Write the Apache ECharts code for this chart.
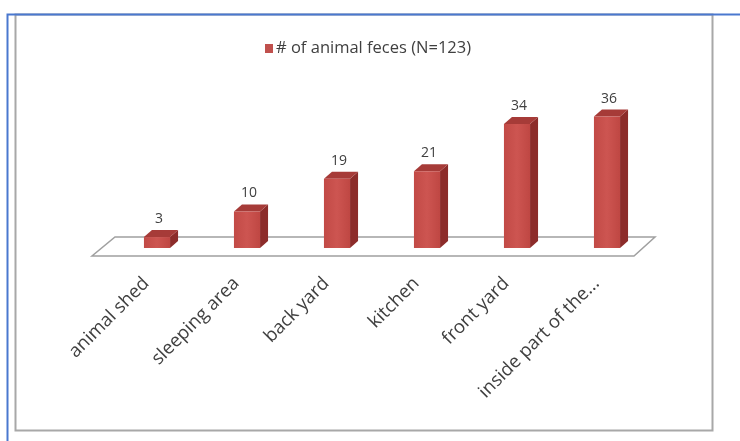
<!DOCTYPE html>
<html>
<head>
<meta charset="utf-8">
<script src="https://cdn.jsdelivr.net/npm/echarts@6/dist/echarts.min.js"></script>
<style>
  html, body { margin: 0; padding: 0; background: #fff; }
  #main { width: 740px; height: 441px; }
</style>
</head>
<body>
<div id="main"></div>
<script>
// data
var categories = ['animal shed', 'sleeping area', 'back yard', 'kitchen', 'front yard', 'inside part of the...'];
var fecesCounts = [3, 10, 19, 21, 34, 36];
var seriesName = '# of animal feces (N=123)';

var DX = 8, DY = 7; // fake 3d depth

var chart = echarts.init(document.getElementById('main'));

// 3d bar: front face + right side + top
function renderBar(params, api) {
    var base = api.coord([api.value(0), 0]);
    var top = api.coord([api.value(0), api.value(1)]);
    var w = api.size([1, 0])[0] * 0.29;
    var l = base[0] - w / 2, r = base[0] + w / 2;
    var y0 = base[1], y1 = top[1];
    return {
        type: 'group',
        children: [
            { type: 'polygon', shape: { points: [[r, y1], [r + DX, y1 - DY], [r + DX, y0 - DY], [r, y0]] },
              style: { fill: '#8c2c2a' } },
            { type: 'polygon', shape: { points: [[l, y1], [l + DX, y1 - DY], [r + DX, y1 - DY], [r, y1]] },
              style: { fill: '#a63b38' } },
            { type: 'rect', shape: { x: l, y: y1, width: w, height: y0 - y1 },
              style: { fill: new echarts.graphic.LinearGradient(0, 0, 1, 0, [
                  { offset: 0, color: '#c24a46' }, { offset: 0.5, color: '#cd5551' }, { offset: 1, color: '#bf4743' }]) } },
            { type: 'text', x: base[0] + DX / 2 - 2, y: y1 - DY - 4,
              style: { text: String(api.value(1)), textAlign: 'center', textVerticalAlign: 'bottom',
                       fill: '#404040', fontSize: 14, fontFamily: 'Open Sans' } }
        ]
    };
}

// floor plate under the bars
function renderFloor(params, api) {
    var first = api.coord([0, 0]);
    var last = api.coord([categories.length - 1, 0]);
    var y = first[1];
    return {
        type: 'polygon',
        shape: { points: [[first[0] - 42, y - 11], [last[0] + 48, y - 11], [last[0] + 27, y + 8], [first[0] - 65, y + 8]] },
        style: { fill: '#fff', stroke: '#a0a0a0', lineWidth: 1.5 }
    };
}

var option = {
    backgroundColor: '#fff',
    animation: false,
    graphic: [
        { type: 'rect', shape: { x: 15.5, y: 14.5, width: 697, height: 416 },
          style: { fill: null, stroke: '#a8a8a8', lineWidth: 2 }, z: 0 },
        { type: 'rect', shape: { x: 7.5, y: 14.5, width: 800, height: 500 },
          style: { fill: null, stroke: '#4a78cf', lineWidth: 2 }, z: 1 }
    ],
    legend: {
        data: [seriesName],
        left: 260, top: 35,
        icon: 'rect', itemWidth: 8, itemHeight: 9, itemGap: 4,
        textStyle: { fontFamily: 'Open Sans', fontSize: 16.5, color: '#404040', padding: [0, 0, 0, -2] }
    },
    grid: { left: 112, right: 88, top: 102, bottom: 193 },
    xAxis: {
        type: 'category',
        data: categories,
        axisLine: { show: false },
        axisTick: { show: false },
        axisLabel: {
            rotate: 45, margin: 22, interval: 0,
            padding: [0, 15, 0, 0],
            fontFamily: 'Open Sans', fontSize: 18.5, color: '#404040'
        }
    },
    yAxis: { type: 'value', min: 0, max: 40, show: false },
    series: [
        {
            type: 'custom', name: 'floor', silent: true, z: 1,
            renderItem: renderFloor,
            data: [[0, 0]]
        },
        {
            type: 'custom', name: seriesName, z: 2,
            itemStyle: { color: '#c0504d' },
            renderItem: renderBar,
            encode: { x: 0, y: 1 },
            data: categories.map(function (c, i) { return [i, fecesCounts[i]]; })
        }
    ]
};

chart.setOption(option);
</script>
</body>
</html>
